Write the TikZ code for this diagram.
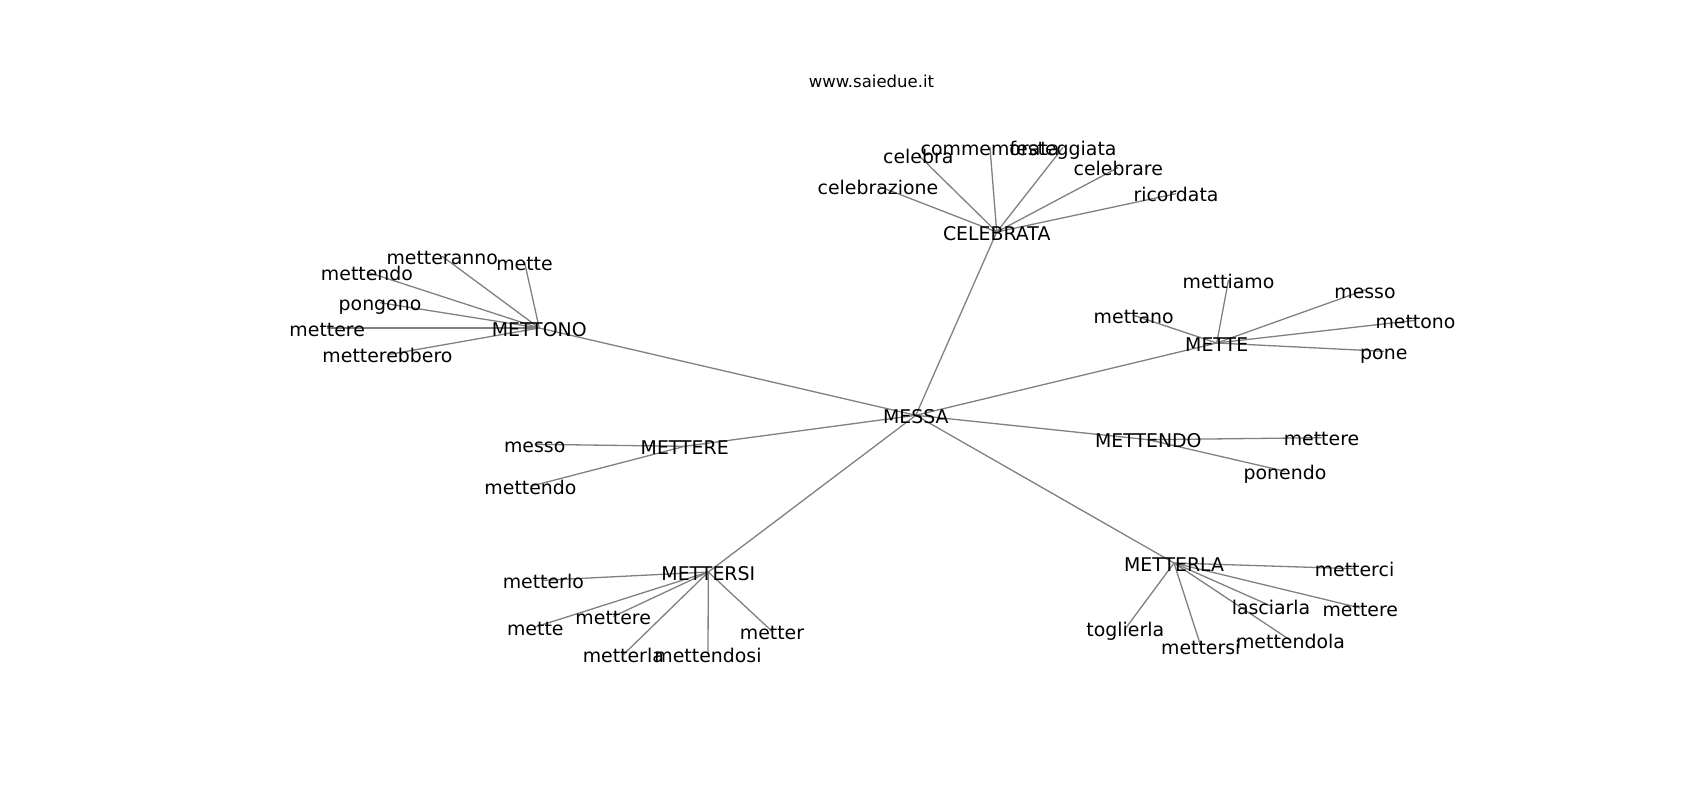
\documentclass[tikz,border=0pt]{standalone}
\usepackage{fontspec}
\setmainfont{DejaVu Sans}
\usepackage{tikz}
\usetikzlibrary{backgrounds}

\tikzset{
    word/.style={font=\fontsize{18.9}{22}\selectfont,inner sep=0pt,text height=16pt,text depth=0pt,anchor=base},
    link/.style={draw=gray,line width=1.3pt},
}

\begin{document}
\begin{tikzpicture}[x=1pt,y=-1pt]
        \useasboundingbox (0,0) rectangle (1700,800);
        \node[font=\fontsize{16.5}{19}\selectfont,anchor=base] (title) at (871.5,88) {www.saiedue.it};

        % centre
        \node[word] (messa) at (915.8,423.3) {MESSA};

        % celebrata
        \node[word] (celebrata) at (996.7,240) {CELEBRATA};
        \node[word] (celebrazione) at (878,194) {celebrazione};
        \node[word] (celebra) at (918.3,163) {celebra};
        \node[word] (commemorata) at (990,155.5) {commemorata};
        \node[word] (festeggiata) at (1063,155.5) {festeggiata};
        \node[word] (celebrare) at (1118.3,175.5) {celebrare};
        \node[word] (ricordata) at (1176,201.7) {ricordata};

        % mettono
        \node[word] (mettono) at (539.2,336) {METTONO};
        \node[word] (mettono-metteranno) at (442.2,264.3) {metteranno};
        \node[word] (mettono-mette) at (524.5,270) {mette};
        \node[word] (mettono-mettendo) at (367,280) {mettendo};
        \node[word] (mettono-pongono) at (380,310.7) {pongono};
        \node[word] (mettono-mettere) at (327.2,336) {mettere};
        \node[word] (mettono-metterebbero) at (387.5,362.7) {metterebbero};

        % mettere
        \node[word] (mettere) at (684.7,454.3) {METTERE};
        \node[word] (mettere-messo) at (534.7,452.3) {messo};
        \node[word] (mettere-mettendo) at (530.5,494.3) {mettendo};

        % mette
        \node[word] (mette) at (1216.7,351) {METTE};
        \node[word] (mette-mettiamo) at (1228.5,288) {mettiamo};
        \node[word] (mette-mettano) at (1133.7,323.3) {mettano};
        \node[word] (mette-messo) at (1365,298) {messo};
        \node[word] (mette-mettono) at (1415.5,328.3) {mettono};
        \node[word] (mette-pone) at (1383.8,359.3) {pone};

        % mettendo
        \node[word] (mettendo) at (1148.3,447.7) {METTENDO};
        \node[word] (mettendo-mettere) at (1321.5,445.7) {mettere};
        \node[word] (mettendo-ponendo) at (1285,479.3) {ponendo};

        % mettersi
        \node[word] (mettersi) at (708.3,580) {METTERSI};
        \node[word] (mettersi-metterlo) at (543.3,588.3) {metterlo};
        \node[word] (mettersi-mette) at (535.3,635) {mette};
        \node[word] (mettersi-mettere) at (613.2,624.5) {mettere};
        \node[word] (mettersi-metterla) at (623.3,662.7) {metterla};
        \node[word] (mettersi-mettendosi) at (708,662.7) {mettendosi};
        \node[word] (mettersi-metter) at (772,639.3) {metter};

        % metterla
        \node[word] (metterla) at (1174,571) {METTERLA};
        \node[word] (metterla-metterci) at (1354.5,576.7) {metterci};
        \node[word] (metterla-lasciarla) at (1271,614) {lasciarla};
        \node[word] (metterla-mettere) at (1360.3,616) {mettere};
        \node[word] (metterla-toglierla) at (1125.3,636.7) {toglierla};
        \node[word] (metterla-mettersi) at (1200.8,654) {mettersi};
        \node[word] (metterla-mettendola) at (1290.5,648.3) {mettendola};

        \begin{scope}[on background layer]
            \foreach \hub in {celebrata,mettono,mettere,mette,mettendo,mettersi,metterla}
                \draw[link] (messa.center)--(\hub.center);
            \foreach \leaf in {celebrazione,celebra,commemorata,festeggiata,celebrare,ricordata}
                \draw[link] (celebrata.center)--(\leaf.center);
            \foreach \leaf in {metteranno,mette,mettendo,pongono,mettere,metterebbero}
                \draw[link] (mettono.center)--(mettono-\leaf.center);
            \foreach \leaf in {messo,mettendo}
                \draw[link] (mettere.center)--(mettere-\leaf.center);
            \foreach \leaf in {mettiamo,mettano,messo,mettono,pone}
                \draw[link] (mette.center)--(mette-\leaf.center);
            \foreach \leaf in {mettere,ponendo}
                \draw[link] (mettendo.center)--(mettendo-\leaf.center);
            \foreach \leaf in {metterlo,mette,mettere,metterla,mettendosi,metter}
                \draw[link] (mettersi.center)--(mettersi-\leaf.center);
            \foreach \leaf in {metterci,lasciarla,mettere,toglierla,mettersi,mettendola}
                \draw[link] (metterla.center)--(metterla-\leaf.center);
        \end{scope}
    \end{tikzpicture}
\end{document}
